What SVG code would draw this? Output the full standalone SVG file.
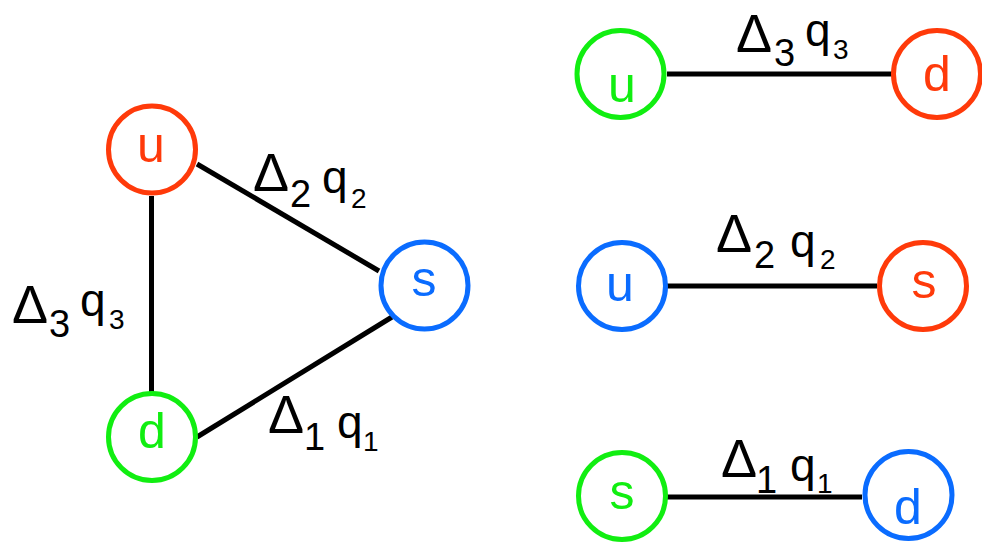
<svg xmlns="http://www.w3.org/2000/svg" width="982" height="544" viewBox="0 0 982 544">
<style>
.n{fill:#fff;stroke-width:5}
.r{stroke:#ff3a0a}.g{stroke:#11ee11}.b{stroke:#0a6cff}
.tr{fill:#ff3a0a}.tg{fill:#11ee11}.tb{fill:#0a6cff}
.t{font-family:"Liberation Sans",Arial,sans-serif;font-size:50px;text-anchor:middle}
.l{font-family:"Liberation Sans",Arial,sans-serif;fill:#000}
.D{font-size:54px}.S{font-size:38px}.q{font-size:46px}.s{font-size:28px}
.e{stroke:#000;stroke-width:5;fill:none}
</style>
<rect width="982" height="544" fill="#fff"/>
<g id="connectors">
<line class="e" x1="151.5" y1="196" x2="151.5" y2="392"/>
<line class="e" x1="197" y1="164" x2="379" y2="271"/>
<line class="e" x1="197" y1="437" x2="392" y2="317"/>
<line class="e" x1="667" y1="74" x2="893" y2="74"/>
<line class="e" x1="667" y1="286" x2="877" y2="286"/>
<line class="e" x1="667" y1="497" x2="862" y2="497"/>
</g>
<g id="labels">
<text class="l"><tspan class="D" x="253" y="191">Δ</tspan><tspan class="S" x="290" y="207">2</tspan><tspan class="q" x="322" y="193">q</tspan><tspan class="s" x="351" y="208">2</tspan></text>
<text class="l"><tspan class="D" x="12" y="323">Δ</tspan><tspan class="S" x="49" y="337">3</tspan><tspan class="q" x="80" y="316">q</tspan><tspan class="s" x="109" y="329">3</tspan></text>
<text class="l"><tspan class="D" x="268" y="433">Δ</tspan><tspan class="S" x="304" y="450">1</tspan><tspan class="q" x="337" y="438">q</tspan><tspan class="s" x="363" y="451">1</tspan></text>
<text class="l"><tspan class="D" x="736" y="52">Δ</tspan><tspan class="S" x="774" y="66">3</tspan><tspan class="q" x="805" y="46">q</tspan><tspan class="s" x="833" y="59">3</tspan></text>
<text class="l"><tspan class="D" x="716" y="252">Δ</tspan><tspan class="S" x="754" y="268">2</tspan><tspan class="q" x="790" y="257">q</tspan><tspan class="s" x="820" y="269">2</tspan></text>
<text class="l"><tspan class="D" x="721" y="477">Δ</tspan><tspan class="S" x="756" y="493">1</tspan><tspan class="q" x="790" y="481">q</tspan><tspan class="s" x="817" y="493">1</tspan></text>
</g>
<g id="node-u-left"><circle class="n r" cx="152" cy="149.5" r="43.5"/><text class="t tr" x="151" y="162">u</text></g>
<g id="node-s-left"><circle class="n b" cx="424.5" cy="285.5" r="43.5"/><text class="t tb" x="424" y="296">s</text></g>
<g id="node-d-left"><circle class="n g" cx="152" cy="437" r="43.5"/><text class="t tg" x="152" y="448">d</text></g>
<g id="node-u-top"><circle class="n g" cx="620.5" cy="74" r="43.5"/><text class="t tg" x="622" y="102">u</text></g>
<g id="node-d-top"><circle class="n r" cx="937" cy="74" r="43.5"/><text class="t tr" x="937" y="91">d</text></g>
<g id="node-u-mid"><circle class="n b" cx="622" cy="286" r="43.5"/><text class="t tb" x="620" y="301">u</text></g>
<g id="node-s-mid"><circle class="n r" cx="923" cy="286" r="43.5"/><text class="t tr" x="924" y="298">s</text></g>
<g id="node-s-bot"><circle class="n g" cx="622" cy="496" r="43.5"/><text class="t tg" x="622" y="509">s</text></g>
<g id="node-d-bot"><circle class="n b" cx="908.5" cy="495" r="43.5"/><text class="t tb" x="908" y="524">d</text></g>
</svg>
